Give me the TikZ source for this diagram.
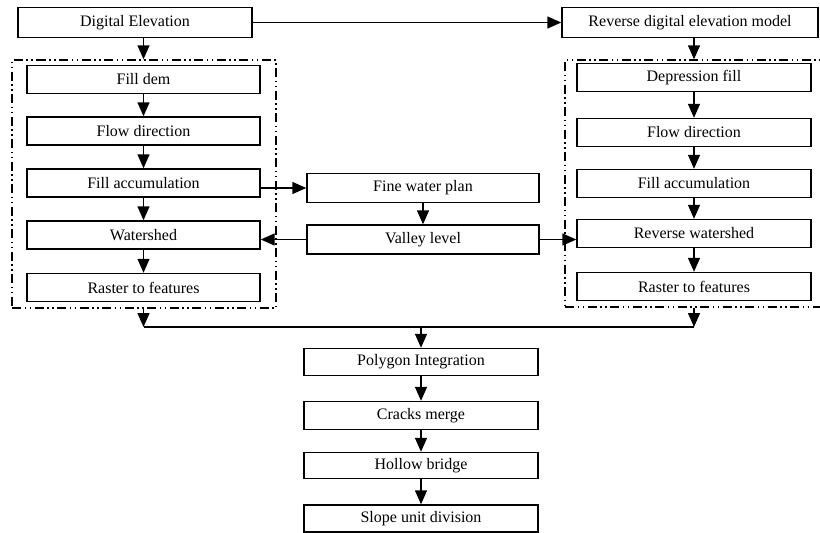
\documentclass[tikz,border=0pt]{standalone}
\usepackage{fontspec}
\setmainfont{Liberation Serif}
\usetikzlibrary{arrows.meta}
\begin{document}
\begin{tikzpicture}[x=1pt,y=-1pt,
  box/.style={draw,line width=1.4pt,inner sep=0pt,minimum height=28pt,font=\fontsize{16}{19}\selectfont},
  arr/.style={line width=1.4pt,-{Triangle[length=14pt,width=12pt]}},
  ln/.style={line width=1.4pt},
  grp/.style={draw,line width=1.4pt,inner sep=0pt,dash pattern=on 9pt off 3.5pt on 1.5pt off 3.5pt on 1.5pt off 3.5pt}]
\useasboundingbox (0,0) rectangle (820,533);
% groups
\node[grp,minimum width=264pt,minimum height=248pt] (lgrp) at (144,184) {};
\node[grp,minimum width=258pt,minimum height=247pt] (rgrp) at (694,183.5) {};
% top
\node[box,minimum width=234pt,minimum height=30pt] (de) at (135,22.5) {Digital Elevation};
\node[box,minimum width=256pt,minimum height=30pt] (rdem) at (690,22.5) {Reverse digital elevation model};
% left column
\node[box,minimum width=233pt] (lfdem) at (143.5,79.5) {Fill dem};
\node[box,minimum width=233pt] (lfd) at (143.5,131) {Flow direction};
\node[box,minimum width=233pt] (lfa) at (143.5,183) {Fill accumulation};
\node[box,minimum width=233pt] (lws) at (143.5,235) {Watershed};
\node[box,minimum width=233pt] (lrf) at (143.5,287.5) {Raster to features};
% right column
\node[box,minimum width=234pt] (rdf) at (694,77.5) {Depression fill};
\node[box,minimum width=234pt] (rfd) at (694,132.5) {Flow direction};
\node[box,minimum width=234pt] (rfa) at (694,183.5) {Fill accumulation};
\node[box,minimum width=234pt] (rws) at (694,233.5) {Reverse watershed};
\node[box,minimum width=234pt] (rrf) at (694,286.5) {Raster to features};
% middle
\node[box,minimum width=232pt,minimum height=29pt] (fwp) at (423,188) {Fine water plan};
\node[box,minimum width=232pt,minimum height=29pt] (vl) at (423,239.5) {Valley level};
% bottom
\node[box,minimum width=234pt,minimum height=27pt] (pi) at (421,362) {Polygon Integration};
\node[box,minimum width=234pt,minimum height=28pt] (cm) at (421,415.5) {Cracks merge};
\node[box,minimum width=234pt,minimum height=26pt] (hb) at (421,465.5) {Hollow bridge};
\node[box,minimum width=234pt,minimum height=27pt] (sud) at (421,518.5) {Slope unit division};
% junction
\coordinate (jl) at (143.5,327);
\coordinate (jr) at (694,327);
\coordinate (jm) at (421,327);
% arrows
\draw[arr] (de.east) -- (rdem.west);
\draw[arr] (de.south -| lfdem.north) -- (lgrp.north -| lfdem.north);
\draw[arr] (rdem.south -| rdf.north) -- (rgrp.north -| rdf.north);
\draw[arr] (lfdem) -- (lfd);
\draw[arr] (lfd) -- (lfa);
\draw[arr] (lfa) -- (lws);
\draw[arr] (lws) -- (lrf);
\draw[arr] (rdf) -- (rfd);
\draw[arr] (rfd) -- (rfa);
\draw[arr] (rfa) -- (rws);
\draw[arr] (rws) -- (rrf);
\draw[arr] (lfa.east |- fwp.west) -- (fwp.west);
\draw[arr] (fwp) -- (vl);
\draw[arr] (vl.west) -- (lws.east |- vl.west);
\draw[arr] (vl.east) -- (rws.west |- vl.east);
\draw[arr] (lgrp.south -| jl) -- (jl);
\draw[arr] (rgrp.south -| jr) -- (jr);
\draw[ln] (jl) -- (jr);
\draw[arr] (jm) -- (pi.north);
\draw[arr] (pi) -- (cm);
\draw[arr] (cm) -- (hb);
\draw[arr] (hb) -- (sud);
\end{tikzpicture}
\end{document}
